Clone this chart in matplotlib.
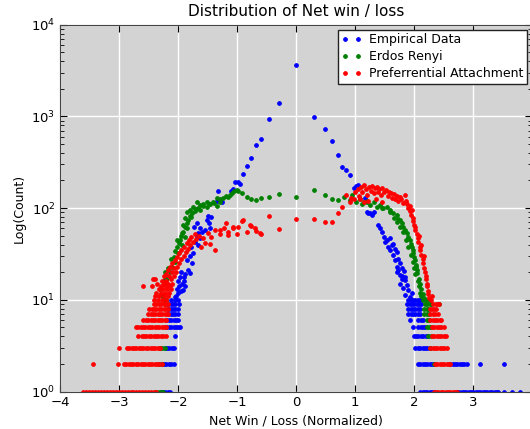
import matplotlib
matplotlib.use('Agg')
import matplotlib.pyplot as plt

# Empirical data: scattered part (x, count)
emp_x = [0.00, -0.29, -0.47, -0.60, -0.69, -0.77, -0.84, -0.90, -0.95, -0.99, -1.04, -1.08, -1.11, -1.32,
         0.30, 0.49, 0.61, 0.70, 0.78, 0.84, 0.91, 0.97, 1.01, 1.05,
         -1.29, -1.26, -1.34, -1.49, -1.45, -1.52, -1.48, -1.46, -1.54, -1.69, -1.73, -1.63, -1.66, -1.60,
         -1.69, -1.63, -1.72, -1.66, -1.79, -1.75, -1.81, -1.77, -1.83, -1.80, -1.91, -1.97, -1.94, -1.92,
         -2.00, -2.06, -1.88, -1.86, -1.95, -2.02, -1.98, -1.90, -2.04, -1.96, -1.88, -2.00,
         1.16, 1.19, 1.25, 1.31, 1.22, 1.28, 1.39, 1.42, 1.45, 1.48, 1.53, 1.59, 1.50, 1.64, 1.56, 1.62,
         1.67, 1.59, 1.70, 1.64, 1.73, 1.67, 1.76, 1.70, 1.79, 1.73, 1.82, 1.76, 1.84, 1.79, 1.70, 1.79,
         1.84, 1.76, 1.87, 1.81, 1.90, 1.84, 1.96, 1.93]
emp_y = [3640, 1390, 930, 565, 490, 355, 288, 237, 182, 192, 195, 160, 155, 155,
         980, 720, 537, 378, 283, 260, 228, 166, 175, 178,
         123, 118, 120, 83, 80, 74, 68, 60, 58, 68, 63, 60, 53, 55,
         49, 47, 43, 40, 38, 32, 30, 25, 21, 19.5, 17.8, 17.8, 15, 12.8,
         11.8, 10.8, 14, 27, 20, 13, 14, 16, 11, 12.5, 19, 16,
         128, 91, 89, 91, 88, 84, 65, 60, 55, 49, 45, 47, 43, 41, 38, 40,
         36, 35, 33.5, 31, 28, 27, 25, 23, 22, 21, 20.4, 18.6, 17.8, 17, 20, 18,
         16.4, 15, 14.5, 13.3, 12.8, 11.2, 11.8, 10.8]
# low counts form rows: (count, x positions)
emp_rows = [
    (1, [-2.30, -2.26, -2.22, -2.18, -2.14,
         2.10, 2.14, 2.18, 2.22, 2.26, 2.30, 2.33, 2.72, 2.76, 2.80, 2.84, 2.88, 2.92, 2.96, 3.00,
         3.04, 3.08, 3.12, 3.16, 3.20, 3.24, 3.28, 3.32, 3.36, 3.40, 3.42, 3.52, 3.65, 3.79]),
    (2, [-2.28, -2.24, -2.20, -2.16, -2.12, -2.08,
         2.06, 2.10, 2.14, 2.18, 2.22, 2.26, 2.30, 2.34, 2.61, 2.65, 2.69, 2.73, 2.77, 2.81,
         2.85, 2.89, 3.11, 3.52]),
    (3, [-2.23, -2.19, -2.15, -2.11, -2.08, 2.02, 2.06, 2.10, 2.14, 2.18, 2.22, 2.26]),
    (4, [-2.06, 1.99, 2.03, 2.07, 2.11, 2.15, 2.19, 2.23]),
    (5, [-2.20, -2.16, -2.12, -2.08, -2.04, -2.00, -1.97, 1.98, 2.07, 2.11, 2.15, 2.18]),
    (6, [-2.20, -2.16, -2.12, -2.08, -2.04, -2.00, 1.92, 2.07, 2.11, 2.14]),
    (7, [-2.17, -2.13, -2.09, -2.05, -2.01, 1.90, 1.94, 1.98, 2.02, 2.06, 2.10]),
    (8, [-2.17, -2.13, -2.09, -2.05, -2.01, 1.90, 1.94, 1.98, 2.02, 2.06, 2.10]),
    (9, [-2.17, -2.13, -2.09, -2.05, -1.99, 1.88, 1.92, 1.96, 2.00, 2.04, 2.08, 2.12]),
    (10, [-2.12, -2.06, -2.01, 1.90, 1.94, 1.98, 2.02, 2.06, 2.10]),
]

# Erdos Renyi
er_x = [-2.17, -2.14, -2.11, -2.06, -2.08, -2.00, -2.03, -1.94, -1.97, -1.89, -1.94, -1.86, -1.92,
        -1.83, -1.89, -1.77, -1.86, -1.80, -1.75, -1.69, -1.63, -1.58, -1.52, -1.46, -1.41, -1.35,
        -1.29, -1.24, -1.15, -1.09, -1.01, -1.52, -1.35, -1.63, -1.80, -1.70,
        -2.25, -2.20, -2.31, -2.23, -2.27, -2.21,
        -2.12, -2.05, -1.99, -1.92, -1.85, -1.78, -1.72, -1.66, -1.58, -1.48, -1.40, -1.30, -1.20,
        -1.12, -1.05, -2.18, -2.22, -2.02, -1.96, -1.88,
        -0.99, -0.92, -0.83, -0.76, -0.69, -0.60, -0.47, -0.29, 0.00, 0.30, 0.48, 0.61, 0.71, 0.80,
        0.91, 0.94,
        1.02, 1.08, 1.11, 1.14, 1.19, 1.20, 1.25, 1.31, 1.36, 1.42, 1.45, 1.47, 1.53, 1.58, 1.59,
        1.64, 1.70, 1.66, 1.73, 1.76, 1.70, 1.79, 1.81, 1.75, 1.84, 1.87, 1.80, 1.89, 1.93, 1.86,
        1.95, 1.96, 1.90, 1.98, 1.98, 1.94, 2.00, 2.01, 1.97, 2.03, 2.03, 2.00, 2.05, 2.05, 2.02,
        2.08, 2.06, 2.10, 2.08, 2.12, 2.10, 2.14, 2.12, 2.16]
er_y = [17.8, 20, 23, 26, 29.5, 32, 38, 40, 45, 49, 53, 60, 65,
        74, 78, 88, 91, 95, 104, 117, 108, 112, 117, 112, 117, 128,
        117, 128, 133, 145, 158, 104, 106, 95, 81, 98,
        15, 16.5, 13, 20, 11, 9.5,
        28, 34, 42, 55, 68, 80, 92, 100, 106, 110, 115, 125, 135,
        140, 152, 22, 17, 45, 50, 62,
        155, 145, 132, 126, 123, 128, 133, 144, 133, 156, 140, 126, 122, 133,
        122, 138,
        117, 125, 112, 118, 120, 118, 108, 117, 104, 108, 100, 100, 104, 95, 91,
        88, 84, 78, 76, 74, 70, 68, 63, 62, 58, 53, 55, 49, 45, 45,
        41, 38, 38, 35, 32, 31, 29, 27, 26, 24, 23, 22, 21, 19.5, 19,
        17, 16, 15, 14, 13, 12, 11.5, 11, 10.5]
er_rows = [
    (1, [-2.37, -2.33, -2.29, -2.26]),
    (2, [-2.32, -2.28, 2.33]),
    (3, [-2.31, -2.27, -2.23, 2.27]),
    (4, [2.24, 2.28]),
    (5, [2.21, 2.25, 2.28]),
    (6, [2.21, 2.25]),
    (7, [2.17, 2.21, 2.25]),
    (8, [2.17, 2.21, 2.24]),
    (9, [-2.22, 2.18, 2.22, 2.26, 2.29, 2.42]),
    (10, [-2.25, -2.20, 2.15, 2.19, 2.23]),
]

# Preferential Attachment
pa_x = [-2.42, -2.35, -2.28, -2.20, -2.40, -2.32, -2.25, -2.18, -2.37, -2.30, -2.22, -2.15, -2.33,
        -2.26, -2.19, -2.12, -2.45, -2.59, -2.29, -2.21, -2.14, -2.36, -2.24, -2.17, -2.10, -2.27,
        -2.20, -2.13, -2.43, -2.39, -2.25, -2.16, -2.08, -2.21, -2.11, -2.04, -2.18, -2.07, -2.14,
        -2.02, -2.10, -1.98, -2.06, -1.95, -2.02, -1.91, -1.99, -1.87, -1.95, -1.84, -1.90, -1.80,
        -1.86, -1.75, -1.82, -1.70, -1.78, -1.65, -1.72, -1.58, -1.50, -1.44, -1.38, -1.30, -1.22,
        -1.15, -1.08, -1.62, -1.55, -1.46, -1.38, -1.29, -1.19, -1.15, -1.07, -1.01, -0.98, -0.92,
        -0.90, -0.84, -0.78, -0.77, -0.70, -0.69, -0.62, -0.60, -0.47, -0.30,
        0.00, 0.30, 0.48, 0.61, 0.71, 0.78, 0.85, 0.91, 0.93,
        0.97, 1.00, 1.04, 1.07, 1.10, 1.12, 1.15, 1.18, 1.20, 1.23, 1.26, 1.28, 1.31, 1.33, 1.36,
        1.38, 1.41, 1.44, 1.46, 1.49, 1.52, 1.55, 1.57, 1.60, 1.63, 1.65, 1.68, 1.70, 1.73, 1.75,
        1.78, 1.81, 1.84, 1.86, 1.88, 1.90, 1.92, 1.93, 1.95, 1.96, 1.97, 1.98, 2.00, 2.01, 2.02,
        2.04, 2.06, 2.07, 2.08, 2.09, 2.10, 2.11, 2.12, 2.14, 2.15, 2.16, 2.17, 2.18, 2.19, 2.20,
        2.21, 2.22, 2.23, 2.24, 2.25, 2.28, 2.30,
        1.08, 1.14, 1.22, 1.35, 1.45]
pa_y = [10, 10, 10, 10, 11, 11, 11, 11, 12, 12, 12, 12, 13,
        13, 13, 13, 14, 14, 14, 14, 14, 15, 15, 15, 15, 16,
        16, 17, 17, 17, 18, 18, 18, 19, 20, 20, 21, 22, 23,
        23, 25, 25, 27, 28, 29, 30, 32, 33, 35, 36, 38, 40,
        42, 43, 45, 46, 48, 50, 52, 47, 53, 49, 57, 52, 60,
        55, 62, 38, 42, 41, 35, 58, 68, 51, 60, 52, 63, 73,
        74, 55, 65, 64, 60, 56, 53, 52, 82, 59,
        76, 76, 70, 70, 89, 102, 140, 117, 130,
        125, 150, 160, 135, 172, 150, 178, 160, 140, 170, 155, 175, 145, 165, 172,
        150, 160, 140, 165, 150, 158, 135, 150, 145, 130, 142, 125, 135, 120, 132,
        125, 115, 138, 120, 110, 100, 105, 92, 85, 96, 78, 72, 65, 58, 62,
        52, 47, 43, 50, 38, 35, 40, 31, 28, 25, 30, 22, 20, 18, 17,
        15, 14, 12.5, 11.5, 10.5, 10, 11,
        125, 118, 120, 125, 118]
pa_rows = [
    (1, [-3.61, -3.56, -3.51, -3.46, -3.41, -3.36, -3.31, -3.26, -3.21, -3.16, -3.11, -3.06, -3.01,
         -2.96, -2.91, -2.86, -2.81, -2.76, -2.71, -2.66, -2.61, -2.56, -2.51, -2.46, -2.41, -2.37,
         2.33, 2.37, 2.41, 2.45, 2.49, 2.53, 2.57, 2.61, 2.65, 2.69, 2.72]),
    (2, [-3.45, -3.02, -2.92, -2.88, -2.84, -2.80, -2.76, -2.72, -2.68, -2.64, -2.60, -2.56, -2.52,
         -2.48, -2.44, -2.40, -2.36, -2.32, -2.28,
         2.35, 2.39, 2.43, 2.47, 2.51, 2.55, 2.59, 2.61]),
    (3, [-3.01, -2.87, -2.83, -2.79, -2.75, -2.71, -2.67, -2.63, -2.59, -2.55, -2.51, -2.47, -2.43,
         -2.39, -2.35, -2.31,
         2.27, 2.31, 2.35, 2.39, 2.43, 2.47, 2.51, 2.55]),
    (4, [-2.69, -2.62, -2.58, -2.54, -2.50, -2.46, -2.42, -2.38, -2.34, -2.30, -2.26, -2.21,
         2.30, 2.34, 2.38, 2.42, 2.46, 2.50, 2.54]),
    (5, [-2.72, -2.68, -2.64, -2.60, -2.56, -2.52, -2.48, -2.44, -2.40, -2.36, -2.32, -2.28, -2.24,
         -2.20, 2.30, 2.34, 2.38, 2.42, 2.46, 2.50]),
    (6, [-2.59, -2.55, -2.51, -2.47, -2.43, -2.39, -2.35, -2.31, -2.27, -2.23, -2.20,
         2.27, 2.31, 2.35, 2.39, 2.43, 2.45]),
    (7, [-2.51, -2.47, -2.43, -2.39, -2.35, -2.31, -2.27, -2.23, -2.19, -2.17,
         2.27, 2.31, 2.35, 2.40]),
    (8, [-2.49, -2.45, -2.41, -2.37, -2.33, -2.29, -2.25, -2.21, -2.17, 2.26, 2.30, 2.34, 2.37]),
    (9, [-2.41, -2.37, -2.33, -2.29, -2.25, -2.21, -2.17, 2.32, 2.36, 2.40, 2.42]),
]

x_ticks = [-4, -3, -2, -1, 0, 1, 2, 3]


def with_rows(xs, ys, rows):
    """Append the low-count rows to the scattered points"""
    x = list(xs)
    y = list(ys)
    for count, row_x in rows:
        x += row_x
        y += [count] * len(row_x)
    return x, y


fig = plt.figure(figsize=(5.30, 4.29), dpi=100)
ax = fig.add_axes([60.3 / 530, 37.5 / 429, 472 / 530, 366.8 / 429])
ax.set_facecolor('#d3d3d3')

series = [
    (emp_x, emp_y, emp_rows, 'b', 'Empirical Data'),
    (er_x, er_y, er_rows, 'g', 'Erdos Renyi'),
    (pa_x, pa_y, pa_rows, 'r', 'Preferrential Attachment'),
]
for xs, ys, rows, color, label in series:
    x, y = with_rows(xs, ys, rows)
    ax.plot(x, y, '.', color=color, markersize=5.5, markeredgewidth=0.6, label=label)

ax.set_yscale('log')
ax.set_xlim(-4, 4)
ax.set_ylim(1, 1e4)
ax.set_xticks(x_ticks)
ax.set_axisbelow(True)
ax.grid(True, which='major', color='white', linestyle='-', linewidth=1)
ax.tick_params(which='both', direction='in', top=True, right=True, labelsize=9.5)
ax.tick_params(which='major', length=5)
ax.tick_params(which='minor', length=3)
for spine in ax.spines.values():
    spine.set_color('#444444')

ax.set_title('Distribution of Net win / loss', fontsize=11)
ax.set_xlabel('Net Win / Loss (Normalized)', fontsize=9)
ax.set_ylabel('Log(Count)', fontsize=9)

leg = ax.legend(loc='upper right', numpoints=2, fancybox=False, framealpha=1,
                edgecolor='#222222', fontsize=9, borderaxespad=0.4,
                handlelength=1.6, handletextpad=0.6, borderpad=0.3, labelspacing=0.3)
leg.get_frame().set_linewidth(1.0)

fig.savefig('out.png', dpi=100)
